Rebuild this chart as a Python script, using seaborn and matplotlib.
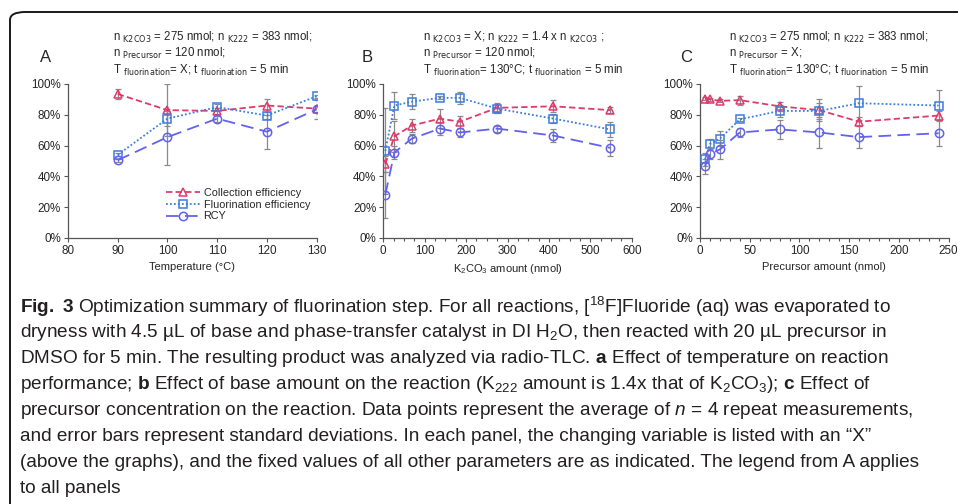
#!/usr/bin/env python3

import numpy as np
import pandas as pd
import seaborn as sns
from matplotlib import pyplot as plt
from matplotlib import ticker as plticker
from matplotlib import font_manager
from matplotlib.patches import FancyBboxPatch

# ---- data (percent) ----
temp_c = [90, 100, 110, 120, 130]
a_coll = [93.5, 83, 82.5, 86, 84]
a_coll_sd = [3, 17, 2, 4, 2]
a_fluor = [54, 77.5, 85, 79.5, 92]
a_fluor_sd = [1, 5, 2, 2, 1]
a_rcy = [50.5, 65.5, 77.5, 69, 83.5]
a_rcy_sd = [1, 18, 2, 11, 6]

k2co3_nmol = [5, 27, 69, 137, 185, 275, 411, 548]
b_coll = [48, 66, 73, 77.5, 75.5, 84.5, 85.5, 83]
b_coll_sd = [5, 10, 4, 6, 4, 3, 4, 2]
b_fluor = [56.5, 86, 88.5, 91, 91, 84, 77.5, 70.5]
b_fluor_sd = [28, 9, 5, 1, 4, 3, 3, 5]
b_rcy = [28, 55.5, 64.5, 71, 68.5, 71, 66.5, 58.5]
b_rcy_sd = [15, 4, 3, 4, 3, 2, 4, 5]

precursor_nmol = [5, 10, 20, 40, 80, 120, 160, 240]
c_coll = [90.5, 90, 89, 89.5, 85.5, 83, 75.5, 79.5]
c_coll_sd = [1, 1, 1, 3, 3, 7, 3, 3]
c_fluor = [51, 61, 64.5, 77, 82.5, 82.5, 87.5, 86]
c_fluor_sd = [4, 3, 5, 1, 4, 5, 11, 10]
c_rcy = [46.5, 54.5, 57.5, 68.5, 70.5, 68.5, 65.5, 68]
c_rcy_sd = [5, 3, 6, 3, 6, 10, 7, 8.5]

series_names = ['Collection efficiency', 'Fluorination efficiency', 'RCY']

panel_labels = ['A', 'B', 'C']
panel_notes = [
    [r'n $_{\rm K2CO3}$ = 275 nmol; n $_{\rm K222}$ = 383 nmol;',
     r'n $_{\rm Precursor}$ = 120 nmol;',
     r'T $_{\rm fluorination}$= X; t $_{\rm fluorination}$ = 5 min'],
    [r'n $_{\rm K2CO3}$ = X; n $_{\rm K222}$ = 1.4 x n $_{\rm K2CO3}$ ;',
     r'n $_{\rm Precursor}$ = 120 nmol;',
     r'T $_{\rm fluorination}$= 130°C; t $_{\rm fluorination}$ = 5 min'],
    [r'n $_{\rm K2CO3}$ = 275 nmol; n $_{\rm K222}$ = 383 nmol;',
     r'n $_{\rm Precursor}$ = X;',
     r'T $_{\rm fluorination}$= 130°C; t $_{\rm fluorination}$ = 5 min'],
]
x_labels = ['Temperature (°C)', r'K$_2$CO$_3$ amount (nmol)',
            'Precursor amount (nmol)']

caption_lines = [
    r'$\mathbf{Fig.}$ $\mathbf{3}$ Optimization summary of fluorination '
    r'step. For all reactions, [$^{18}$F]Fluoride (aq) was evaporated to',
    r'dryness with 4.5 µL of base and phase-transfer catalyst in DI '
    r'H$_2$O, then reacted with 20 µL precursor in',
    'DMSO for 5 min. The resulting product was analyzed via radio-TLC. '
    r'$\mathbf{a}$ Effect of temperature on reaction',
    r'performance; $\mathbf{b}$ Effect of base amount on the reaction '
    r'(K$_{222}$ amount is 1.4x that of K$_2$CO$_3$); $\mathbf{c}$ Effect of',
    'precursor concentration on the reaction. Data points represent the '
    r'average of $n$ = 4 repeat measurements,',
    'and error bars represent standard deviations. In each panel, the '
    'changing variable is listed with an “X”',
    '(above the graphs), and the fixed values of all other parameters are '
    'as indicated. The legend from A applies',
    'to all panels',
]


def main():
    sns.set_theme(style='ticks')
    plt.rcParams['font.family'] = ['Liberation Sans', 'DejaVu Sans']

    names = {f.name for f in font_manager.fontManager.ttflist}
    if 'Liberation Sans Narrow' in names:
        cap_font, cap_size = 'Liberation Sans Narrow', 13.5
    else:
        cap_font, cap_size = 'Liberation Sans', 13.7
    plt.rcParams['mathtext.fontset'] = 'custom'
    plt.rcParams['mathtext.rm'] = cap_font
    plt.rcParams['mathtext.it'] = cap_font + ':italic'
    plt.rcParams['mathtext.bf'] = cap_font + ':bold'

    fig = plt.figure(figsize=(9.58, 5.04), dpi=100)

    colors = ['#e03a6c', '#3b7de0', '#6262ee']
    markers = ['^', 's', 'o']
    styles = [(0, (3.5, 1.8)), (0, (1, 1.2)), (0, (7, 3.5))]

    panels = [
        (temp_c, [a_coll, a_fluor, a_rcy], [a_coll_sd, a_fluor_sd, a_rcy_sd]),
        (k2co3_nmol, [b_coll, b_fluor, b_rcy],
         [b_coll_sd, b_fluor_sd, b_rcy_sd]),
        (precursor_nmol, [c_coll, c_fluor, c_rcy],
         [c_coll_sd, c_fluor_sd, c_rcy_sd]),
    ]
    lefts = [0.071, 0.400, 0.7307]
    xlims = [(80, 130), (0, 600), (0, 250)]
    xmajor = [10, 100, 50]
    xminor = [None, 25, 10]
    note_x = [113, 423, 729]
    label_x = [40, 362, 680]

    for i, (xs, ys_list, sd_list) in enumerate(panels):
        ax = fig.add_axes([lefts[i], 0.5278, 0.2595, 0.3056])
        for j, (ys, sds) in enumerate(zip(ys_list, sd_list)):
            ax.errorbar(xs, ys, yerr=sds, fmt='none', ecolor='#8a8a8a',
                        elinewidth=0.9, capsize=2.2, capthick=0.9, zorder=2)
        for j, ys in enumerate(ys_list):
            df = pd.DataFrame({'x': xs, 'y': ys})
            sns.lineplot(data=df, x='x', y='y', ax=ax, color=colors[j],
                         marker=markers[j], markersize=6,
                         markerfacecolor='none', markeredgecolor=colors[j],
                         markeredgewidth=1.1, linestyle=styles[j],
                         linewidth=1.3, label=series_names[j], zorder=3)
        ax.set_xlim(*xlims[i])
        ax.set_ylim(0, 100)
        ax.set_yticks(np.arange(0, 101, 20))
        ax.yaxis.set_major_formatter(plticker.FuncFormatter(
            lambda v, p: f'{v:.0f}%'))
        ax.xaxis.set_major_locator(plticker.MultipleLocator(xmajor[i]))
        if xminor[i]:
            ax.xaxis.set_minor_locator(plticker.MultipleLocator(xminor[i]))
        ax.tick_params(axis='both', which='major', labelsize=8.4,
                       length=3, width=0.8, color='#555555', pad=2)
        ax.tick_params(axis='x', which='minor', length=2, width=0.8,
                       color='#555555')
        for s in ['left', 'bottom']:
            ax.spines[s].set_color('#555555')
            ax.spines[s].set_linewidth(0.9)
        sns.despine(ax=ax)
        ax.set_xlabel(x_labels[i], fontsize=8.0, labelpad=4)
        ax.set_ylabel('')
        ax.set_facecolor('none')

        if i == 0:
            ax.legend(loc='lower right', bbox_to_anchor=(1.0, 0.065),
                      frameon=False, fontsize=7.8, handlelength=3.2,
                      handletextpad=0.3, labelspacing=0.15,
                      borderaxespad=0.2)
        else:
            leg = ax.get_legend()
            if leg:
                leg.remove()

        fig.text(label_x[i] / 958, 1 - 57 / 504, panel_labels[i],
                 fontsize=12, ha='left', va='center')
        for k, line in enumerate(panel_notes[i]):
            fig.text(note_x[i] / 958, 1 - (37 + 16.8 * k) / 504, line,
                     fontsize=8.3, ha='left', va='center',
                     family='Liberation Sans', math_fontfamily='dejavusans')

    for k, line in enumerate(caption_lines):
        fig.text(20 / 958, 1 - (307 + 25.9 * k) / 504, line,
                 fontsize=cap_size, family=cap_font, ha='left',
                 va='center', color='#231f20')

    frame = FancyBboxPatch((10 / 958, -0.1), 1.2, 1 - 12 / 504 + 0.1,
                           boxstyle='round,pad=0,rounding_size=0.016',
                           transform=fig.transFigure, fill=False,
                           edgecolor='#1a1a1a', linewidth=1.4,
                           clip_on=False)
    fig.patches.append(frame)

    fig.savefig('out.png', dpi=100)
    plt.close(fig)


if __name__ == '__main__':
    main()
